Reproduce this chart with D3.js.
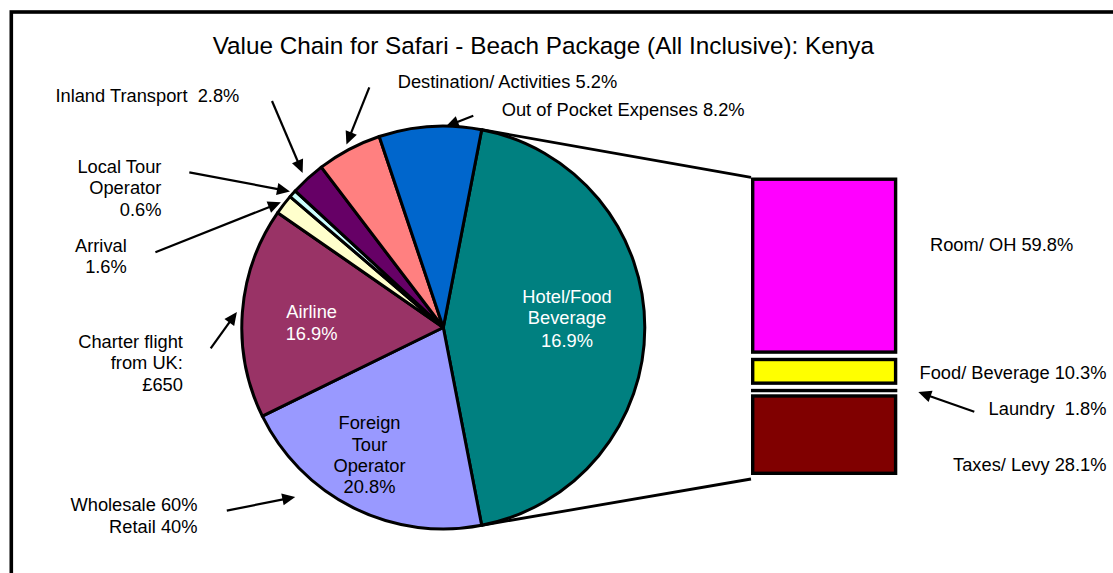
<!DOCTYPE html>
<html>
<head>
<meta charset="utf-8">
<script src="https://cdn.jsdelivr.net/npm/d3@7"></script>
<style>
  html, body { margin: 0; padding: 0; background: #ffffff; }
  svg { display: block; }
  text { font-family: "Liberation Sans", Arial, sans-serif; white-space: pre; }
</style>
</head>
<body>
<svg id="chart" width="1113" height="573"></svg>
<script>
// ---------------- DATA ----------------
const titleText = "Value Chain for Safari - Beach Package (All Inclusive): Kenya";

// pie slices, clockwise starting with the "other" slice (Hotel/Food) that is broken out into the bar
const categories = ["Hotel/Food Beverage", "Foreign Tour Operator", "Airline", "Arrival",
                    "Local Tour Operator", "Inland Transport", "Destination/ Activities",
                    "Out of Pocket Expenses"];
const values = [43.9, 20.8, 16.9, 1.6, 0.6, 2.8, 5.2, 8.2];
const sliceColors = ["#008080", "#9999FF", "#993366", "#FFFFCC", "#CCFFFF", "#660066", "#FF8080", "#0066CC"];

// bar (breakdown of Hotel/Food slice)
const barCategories = ["Room/ OH", "Food/ Beverage", "Laundry", "Taxes/ Levy"];
const barValues = [59.8, 10.3, 1.8, 28.1];
const barColors = ["#FF00FF", "#FFFF00", "#000000", "#800000"];

// label texts (as printed on the chart)
const sliceLabelLines = [
  ["Hotel/Food", "Beverage", "16.9%"],
  ["Foreign", "Tour", "Operator", "20.8%"],
  ["Airline", "16.9%"],
  ["Arrival", "1.6%"],
  ["Local Tour", "Operator", "0.6%"],
  ["Inland Transport  2.8%"],
  ["Destination/ Activities 5.2%"],
  ["Out of Pocket Expenses 8.2%"]
];
const noteLines = [["Charter flight", "from UK:", "£650"], ["Wholesale 60%", "Retail 40%"]];
const barLabelLines = ["Room/ OH 59.8%", "Food/ Beverage 10.3%", "Laundry  1.8%", "Taxes/ Levy 28.1%"];

// ---------------- LAYOUT ----------------
const svg = d3.select("#chart");
const FS = 18.3;
const cx = 443.3, cy = 327.5, R = 201.5;
const deg = Math.PI / 180;
const polar = (a, r) => [cx + r * Math.sin(a), cy - r * Math.cos(a)];

// frame (extends beyond the visible picture on the right and bottom)
svg.append("rect").attr("x", 11.3).attr("y", 12).attr("width", 1200).attr("height", 700)
  .attr("fill", "none").attr("stroke", "#000").attr("stroke-width", 3.6);

// title
svg.append("text").attr("x", 212.7).attr("y", 54.3)
  .attr("font-size", 24.3).attr("fill", "#000").text(titleText);

// ---------------- PIE ----------------
const otherShare = values[0] / d3.sum(values);
const startA = Math.PI / 2 - otherShare * Math.PI;
const pie = d3.pie().sort(null).value(d => d).startAngle(startA).endAngle(startA + 2 * Math.PI);
const arcs = pie(values);
const arc = d3.arc().innerRadius(0).outerRadius(R);

const g = svg.append("g").attr("transform", `translate(${cx},${cy})`);
g.selectAll("path").data(arcs).enter().append("path")
  .attr("d", arc)
  .attr("fill", (d, i) => sliceColors[i])
  .attr("stroke", "#000").attr("stroke-width", 3).attr("stroke-linejoin", "round");

// ---------------- BAR ----------------
const barX0 = 751, barX1 = 897.3, BS = 3.4;
const y = d3.scaleLinear().domain([0, d3.sum(barValues)]).range([175.5, 477]);
const stacked = [];
let cum = 0;
barValues.forEach((v, i) => { stacked.push({ v, i, y0: cum, y1: cum + v }); cum += v; });

const bg = svg.append("g");
stacked.forEach(s => {
  const top = y(s.y0) + 2;
  let bot = y(s.y1) - 2;
  if (bot - top < BS) bot = top + BS;
  bg.append("rect").attr("x", barX0).attr("y", top).attr("width", barX1 - barX0).attr("height", bot - top)
    .attr("fill", "#000");
  if (bot - top > 2 * BS) {
    bg.append("rect").attr("x", barX0 + BS).attr("y", top + BS)
      .attr("width", barX1 - barX0 - 2 * BS).attr("height", bot - top - 2 * BS)
      .attr("fill", barColors[s.i]);
  }
});

// connector lines from the Hotel/Food slice to the bar
const pTop = polar(arcs[0].startAngle, R);
const pBot = polar(arcs[0].endAngle, R);
svg.append("line").attr("x1", pTop[0]).attr("y1", pTop[1]).attr("x2", barX0).attr("y2", y(0) + 1.8)
  .attr("stroke", "#000").attr("stroke-width", 2.8);
svg.append("line").attr("x1", pBot[0]).attr("y1", pBot[1]).attr("x2", barX0).attr("y2", y(100) + 2)
  .attr("stroke", "#000").attr("stroke-width", 2.8);

// ---------------- TEXT ----------------
function lines(x, baselines, arr, anchor, color) {
  arr.forEach((t, k) => {
    svg.append("text").attr("x", x).attr("y", baselines[k])
      .attr("xml:space", "preserve")
      .attr("text-anchor", anchor).attr("font-size", FS).attr("fill", color).text(t);
  });
}
// inside-slice labels
lines(567, [303.3, 323.8, 346.7], sliceLabelLines[0], "middle", "#fff");
lines(369.5, [429, 450.7, 472.2, 493.3], sliceLabelLines[1], "middle", "#000");
lines(311.6, [317.7, 340], sliceLabelLines[2], "middle", "#fff");
// outside labels
lines(126.8, [252.3, 272.7], sliceLabelLines[3], "end", "#000");
lines(161.4, [172.8, 193.8, 215.5], sliceLabelLines[4], "end", "#000");
lines(55.4, [101.5], sliceLabelLines[5], "start", "#000");
lines(397.7, [88.3], sliceLabelLines[6], "start", "#000");
lines(501.7, [115.5], sliceLabelLines[7], "start", "#000");
lines(182.9, [348.3, 369.3, 390.7], noteLines[0], "end", "#000");
lines(197.5, [510.7, 533.3], noteLines[1], "end", "#000");
// bar labels
lines(930, [250.7], [barLabelLines[0]], "start", "#000");
lines(1106.5, [378.5], [barLabelLines[1]], "end", "#000");
lines(1106.5, [414.5], [barLabelLines[2]], "end", "#000");
lines(1106.5, [470.5], [barLabelLines[3]], "end", "#000");

// ---------------- ARROWS ----------------
function arrow(tail, tip) {
  const dx = tip[0] - tail[0], dy = tip[1] - tail[1];
  const L = Math.hypot(dx, dy), ux = dx / L, uy = dy / L;
  const hl = 13, hw = 6;
  const bx = tip[0] - ux * hl, by = tip[1] - uy * hl;
  svg.append("line").attr("x1", tail[0]).attr("y1", tail[1]).attr("x2", bx + ux * 2).attr("y2", by + uy * 2)
    .attr("stroke", "#000").attr("stroke-width", 2.2);
  svg.append("path")
    .attr("d", `M${tip[0]},${tip[1]}L${bx - uy * hw},${by + ux * hw}L${bx + uy * hw},${by - ux * hw}Z`)
    .attr("fill", "#000");
}
const mid = d => (d.startAngle + d.endAngle) / 2;
// [slice index, angle offset (deg), tip radius, tail point]
const arrowDefs = [
  [5, 0, 209, [272, 101]],
  [6, 0, 207, [369.3, 87.3]],
  [7, 4.5, 201, [473.3, 115.8]],
  [4, 0, 205, [189.3, 172.3]],
  [3, 0, 205, [155.4, 252.3]],
  [2, 0, 207, [210.7, 348.3]],
  [1, 14.7, 225, [226.8, 510.7]]
];
arrowDefs.forEach(([i, off, r, tail]) => arrow(tail, polar(mid(arcs[i]) + off * deg, r)));
// laundry arrow
const laundry = stacked[2];
arrow([974.3, 411.7], [barX1 + 21, (y(laundry.y0) + y(laundry.y1)) / 2 + 2.5]);
</script>
</body>
</html>
